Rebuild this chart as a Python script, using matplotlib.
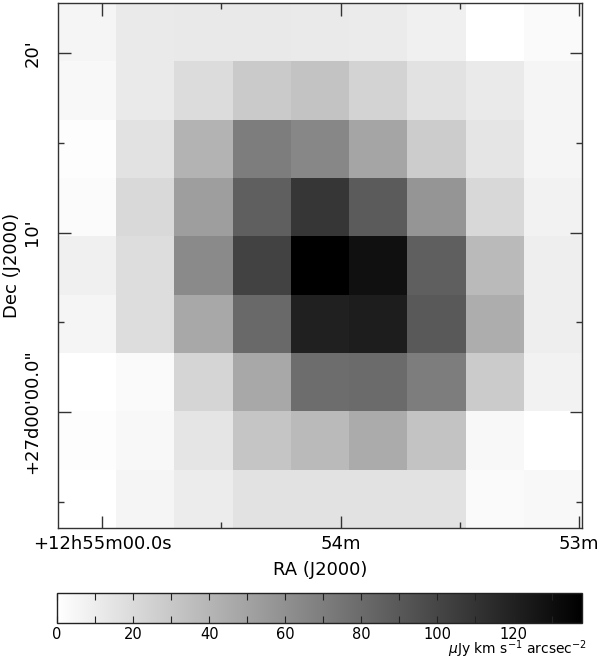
import numpy as np
import matplotlib
matplotlib.use("Agg")
import matplotlib.pyplot as plt
from matplotlib.ticker import FixedLocator, NullLocator

plt.rcParams['font.family'] = ['DejaVu Sans']

# Integrated intensity map (uJy km/s/arcsec^2), rows top -> bottom, cols left -> right
row0 = [5.4, 11.4, 12.0, 12.0, 11.4, 10.9, 8.2, 0.0, 2.7]
row1 = [3.8, 11.4, 19.0, 28.8, 32.6, 23.9, 15.8, 11.4, 5.4]
row2 = [1.1, 15.8, 41.3, 70.1, 65.2, 48.9, 27.7, 14.1, 5.4]
row3 = [2.2, 20.7, 52.7, 86.4, 108.7, 88.6, 57.6, 21.2, 7.1]
row4 = [8.2, 18.5, 63.6, 101.6, 138.6, 128.8, 86.4, 37.5, 9.2]
row5 = [5.4, 18.5, 47.3, 81.0, 120.1, 122.3, 89.7, 44.6, 9.2]
row6 = [0.0, 2.7, 22.8, 47.3, 78.8, 79.9, 70.1, 28.3, 7.1]
row7 = [1.6, 4.3, 14.1, 31.5, 37.5, 45.7, 32.6, 3.8, 0.0]
row8 = [0.0, 5.4, 10.3, 15.8, 15.8, 15.8, 15.8, 2.7, 3.8]

# Axis extents: RA in seconds after 12h53m, Dec in arcmin after +27d
ra_left, ra_right = 131.07, -0.75
dec_top, dec_bottom = 22.79, -6.46

ra_major = [120, 60, 0]
ra_major_labels = ['+12h55m00.0s', '54m', '53m']
ra_minor = [90, 30]
dec_major = [20, 10, 0]
dec_major_labels = ["20'", "10'", "+27d00'00.0\""]
dec_minor = [15, 5, -5]

cb_ticks = [0, 10, 20, 30, 40, 50, 60, 70, 80, 90, 100, 110, 120, 130]
cb_labels = ['0', '', '20', '', '40', '', '60', '', '80', '', '100', '', '120', '']
vmax = 138.0

data = np.array([row0, row1, row2, row3, row4, row5, row6, row7, row8])

fig = plt.figure(figsize=(6.0, 6.59), dpi=100)
W, H = 600, 659
ax = fig.add_axes([58 / W, 1 - 528 / H, (582 - 58) / W, (528 - 3) / H])
im = ax.imshow(data, cmap='gray_r', vmin=0, vmax=vmax, interpolation='nearest',
               extent=[ra_left, ra_right, dec_bottom, dec_top], aspect='auto')
ax.set_xlim(ra_left, ra_right)
ax.set_ylim(dec_bottom, dec_top)

ax.set_xticks(ra_major)
ax.set_xticklabels(ra_major_labels, fontsize=13)
ax.xaxis.set_minor_locator(FixedLocator(ra_minor))
ax.set_yticks(dec_major)
ax.set_yticklabels(dec_major_labels, fontsize=13, rotation=90, va='center')
ax.yaxis.set_minor_locator(FixedLocator(dec_minor))
ax.tick_params(which='both', direction='in', top=True, right=True, color='#333333', width=1)
ax.tick_params(which='major', length=9)
ax.tick_params(axis='x', which='major', pad=5)
ax.tick_params(axis='y', which='major', pad=12)
ax.tick_params(which='minor', length=4)
for s in ax.spines.values():
    s.set_linewidth(1)
    s.set_color('#333333')

ax.set_xlabel('RA (J2000)', fontsize=13, labelpad=6)
ax.set_ylabel('Dec (J2000)', fontsize=13, labelpad=2)

cax = fig.add_axes([57 / W, 1 - 623 / H, (582 - 57) / W, (623 - 593) / H])
cb = fig.colorbar(im, cax=cax, orientation='horizontal')
cb.outline.set_linewidth(1)
cb.outline.set_edgecolor('#222222')
cax.set_xticks(cb_ticks)
cax.set_xticklabels(cb_labels, fontsize=10.5)
cax.xaxis.set_minor_locator(NullLocator())
cax.tick_params(which='both', direction='in', top=True, bottom=True,
                labeltop=False, labelbottom=True, length=5, color='#222222', pad=3)

fig.text(587 / W, 1 - 654 / H, r'$\mu$Jy km s$^{-1}$ arcsec$^{-2}$', ha='right', va='baseline',
         fontsize=10)

fig.savefig('out.png', dpi=100)
